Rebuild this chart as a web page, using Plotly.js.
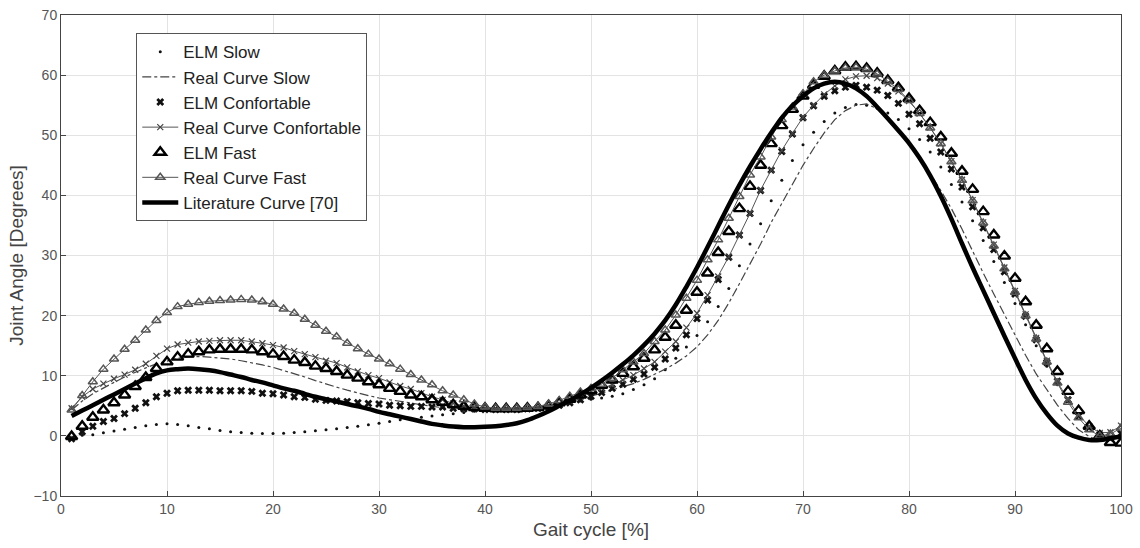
<!DOCTYPE html>
<html>
<head>
<meta charset="utf-8">
<script src="https://cdn.plot.ly/plotly-3.0.1.min.js"></script>
<style>
  html, body { margin: 0; padding: 0; background: #ffffff; }
  #chart { width: 1140px; height: 548px; }
</style>
</head>
<body>
<div id="chart"></div>
<script>
// Gait cycle [%]
const gaitCycle = [1,2,3,4,5,6,7,8,9,10,11,12,13,14,15,16,17,18,19,20,21,22,23,24,25,26,27,28,29,30,31,32,33,34,35,36,37,38,39,40,41,42,43,44,45,46,47,48,49,50,51,52,53,54,55,56,57,58,59,60,61,62,63,64,65,66,67,68,69,70,71,72,73,74,75,76,77,78,79,80,81,82,83,84,85,86,87,88,89,90,91,92,93,94,95,96,97,98,99,100];

const elmSlow = [-0.3,0.1,0.2,0.5,0.8,1.1,1.4,1.7,1.9,2.0,1.9,1.7,1.4,1.2,0.9,0.7,0.55,0.45,0.4,0.4,0.45,0.55,0.7,0.85,1.0,1.2,1.4,1.6,1.85,2.1,2.4,2.7,2.9,3.1,3.3,3.5,3.7,3.9,4.1,4.2,4.3,4.4,4.5,4.6,4.8,5.0,5.2,5.5,5.8,6.1,6.3,6.6,7.0,7.7,8.5,9.5,11.0,12.9,14.8,16.7,19.0,21.5,24.5,28.3,31.9,35.3,39.1,42.5,45.8,48.4,50.5,52.3,53.7,54.6,55.1,55.0,54.5,53.7,52.6,51.1,49.3,47.2,44.7,41.8,38.9,35.8,32.5,29.0,25.5,22.0,18.5,15.0,11.6,8.5,5.7,3.2,1.3,0.1,-0.5,-0.3];

const realSlow = [4.3,5.8,7.0,8.0,8.9,9.8,10.6,11.3,12.0,12.5,12.9,13.1,13.2,13.1,13.0,12.8,12.5,12.2,11.8,11.4,10.9,10.4,9.8,9.2,8.6,8.1,7.6,7.1,6.7,6.3,6.0,5.7,5.4,5.1,4.9,4.7,4.6,4.5,4.4,4.4,4.4,4.4,4.5,4.6,4.8,5.0,5.3,5.7,6.1,6.6,7.1,7.6,8.1,8.7,9.4,10.2,11.1,12.1,13.3,14.8,16.8,19.2,22.1,25.3,28.5,31.9,35.5,38.6,41.9,45.0,47.8,50.4,52.6,54.1,55.0,55.2,54.4,52.6,50.6,48.5,46.0,43.6,40.8,37.8,34.4,30.7,27.1,23.6,20.2,16.8,13.4,10.3,7.6,5.1,2.9,1.0,-0.1,-0.8,-0.6,0.2];

const elmConf = [-0.5,0.7,1.6,2.4,2.9,3.7,4.6,5.5,6.5,7.1,7.5,7.6,7.6,7.6,7.5,7.5,7.5,7.4,7.1,7.0,6.8,6.5,6.4,6.1,5.9,5.8,5.7,5.5,5.4,5.3,5.1,5.0,4.9,4.9,4.8,4.8,4.6,4.5,4.5,4.4,4.4,4.4,4.4,4.5,4.6,4.8,5.1,5.5,6.0,6.6,7.2,7.9,8.6,9.4,10.3,11.4,12.8,14.6,16.8,19.5,22.6,26.0,29.7,33.4,37.0,40.8,44.2,47.3,50.2,52.9,54.9,56.5,57.4,58.0,58.3,58.0,57.5,56.6,55.3,53.5,51.9,49.5,47.2,44.4,41.4,38.1,34.6,31.0,27.3,23.6,19.9,16.0,12.2,9.1,6.0,3.3,1.4,0.2,-0.4,0.4];

const realConf = [4.6,6.5,7.8,8.7,9.5,10.2,11.0,12.0,13.3,14.5,15.2,15.5,15.7,15.8,15.9,15.9,15.9,15.7,15.4,15.1,14.7,14.1,13.6,13.1,12.5,12.1,11.4,10.7,10.1,9.6,8.9,8.3,7.8,7.1,6.5,6.0,5.4,5.0,4.6,4.5,4.4,4.4,4.4,4.5,4.6,4.9,5.3,5.8,6.5,7.4,7.9,8.5,9.3,10.1,11.2,12.3,14.0,15.7,18.0,20.4,23.4,26.5,29.8,33.4,37.0,40.9,44.2,47.5,50.3,53.0,55.0,56.8,58.2,59.3,59.8,59.9,59.5,58.6,57.3,55.7,53.6,51.3,48.6,45.7,42.6,39.2,35.5,31.8,28.0,24.1,20.2,16.3,12.5,9.0,6.0,3.5,1.6,0.5,0.6,1.7];

const elmFast = [-0.1,1.6,3.1,4.3,5.5,6.8,8.2,9.7,11.2,12.3,13.1,13.6,14.0,14.3,14.4,14.4,14.4,14.3,14.0,13.6,13.2,12.6,12.2,11.6,11.2,10.7,10.1,9.6,9.0,8.5,7.9,7.4,6.8,6.5,6.0,5.6,5.2,4.9,4.7,4.6,4.5,4.5,4.5,4.6,4.7,5.0,5.5,6.1,6.8,7.5,8.4,9.3,10.4,11.5,12.9,14.3,16.4,18.4,20.9,23.9,27.1,30.5,34.0,37.8,41.5,45.0,48.6,51.6,54.3,56.5,58.3,59.8,60.7,61.3,61.4,61.1,60.3,59.1,57.9,56.1,54.1,52.1,49.7,47.0,44.0,41.0,37.3,33.4,29.9,26.2,22.3,18.4,14.5,10.7,7.4,4.2,1.6,0.0,-1.1,-1.2];

const realFast = [4.3,6.7,9.0,11.1,12.8,14.4,15.9,17.6,19.2,20.5,21.5,21.9,22.2,22.4,22.5,22.6,22.7,22.6,22.3,21.9,21.1,20.4,19.4,18.4,17.4,16.5,15.4,14.5,13.6,12.8,12.0,11.1,10.2,9.3,8.5,7.5,6.8,6.0,5.3,4.8,4.6,4.6,4.6,4.7,4.9,5.3,5.9,6.6,7.3,7.9,8.6,9.6,11.0,12.3,13.7,15.7,17.6,20.1,22.9,25.9,29.3,32.6,36.2,39.8,43.4,46.4,49.7,52.6,54.7,56.9,58.9,60.0,60.7,61.2,61.3,61.0,60.2,59.0,57.6,55.8,53.6,51.2,48.6,45.6,42.5,39.1,35.4,31.6,27.8,23.9,20.0,16.1,12.3,8.8,5.6,3.0,1.0,0.0,0.3,1.3];

const literature = [3.3,4.2,5.1,6.0,6.9,7.8,8.7,9.6,10.4,10.9,11.1,11.2,11.1,10.9,10.6,10.2,9.8,9.3,8.9,8.4,7.9,7.5,7.0,6.5,6.1,5.7,5.3,4.9,4.5,4.0,3.6,3.2,2.8,2.4,2.0,1.75,1.55,1.45,1.45,1.5,1.6,1.8,2.1,2.6,3.3,4.1,5.0,5.9,6.9,8.0,9.2,10.5,11.9,13.4,15.1,17.0,19.2,21.8,24.8,28.0,31.4,34.9,38.4,41.7,44.8,47.7,50.4,52.9,54.9,56.5,57.8,58.6,58.9,58.6,57.8,56.5,54.7,52.8,50.8,48.7,46.2,43.3,39.9,36.1,32.0,28.0,24.2,20.4,16.6,12.9,9.3,6.2,3.7,1.7,0.4,-0.3,-0.7,-0.7,-0.4,-0.1];

const seriesNames = ['ELM Slow','Real Curve Slow','ELM Confortable','Real Curve Confortable','ELM Fast','Real Curve Fast','Literature Curve [70]'];

const traces = [
  {x: gaitCycle, y: elmSlow, name: seriesNames[0], type: 'scatter', mode: 'markers',
   marker: {symbol: 'circle', size: 3, color: '#111'}},
  {x: gaitCycle, y: realSlow, name: seriesNames[1], type: 'scatter', mode: 'lines',
   line: {color: '#444', width: 1.2, dash: 'dashdot'}},
  {x: gaitCycle, y: elmConf, name: seriesNames[2], type: 'scatter', mode: 'markers',
   marker: {symbol: 'x', size: 7, color: '#111', line: {width: 0}}},
  {x: gaitCycle, y: realConf, name: seriesNames[3], type: 'scatter', mode: 'lines+markers',
   line: {color: '#555', width: 1},
   marker: {symbol: 'x-thin', size: 6, color: '#444', line: {color: '#444', width: 1.2}}},
  {x: gaitCycle, y: elmFast, name: seriesNames[4], type: 'scatter', mode: 'markers',
   marker: {symbol: 'triangle-up-open', size: 10, color: '#000', line: {color: '#000', width: 2.4}}},
  {x: gaitCycle, y: realFast, name: seriesNames[5], type: 'scatter', mode: 'lines+markers',
   line: {color: '#555', width: 1},
   marker: {symbol: 'triangle-up-open', size: 8, color: '#555', line: {color: '#555', width: 1.5}}},
  {x: gaitCycle, y: literature, name: seriesNames[6], type: 'scatter', mode: 'lines',
   line: {color: '#000', width: 4.5, shape: 'spline'}}
];

const axisCommon = {
  showgrid: true, gridcolor: '#e3e3e3', gridwidth: 1,
  zeroline: false, showline: true, linecolor: '#444', linewidth: 1, mirror: true,
  ticks: 'inside', ticklen: 5, tickcolor: '#444',
  tickfont: {family: 'Liberation Sans, Arial, sans-serif', size: 14, color: '#555'}
};

const layout = {
  width: 1140, height: 548,
  paper_bgcolor: '#ffffff', plot_bgcolor: '#ffffff',
  margin: {l: 61, r: 19, t: 15, b: 52},
  showlegend: true,
  font: {family: 'Liberation Sans, Arial, sans-serif', color: '#333'},
  xaxis: Object.assign({}, axisCommon, {
    range: [0, 100], tickvals: [0,10,20,30,40,50,60,70,80,90,100],
    title: {text: 'Gait cycle [%]', font: {size: 19, color: '#444'}, standoff: 6}
  }),
  yaxis: Object.assign({}, axisCommon, {
    range: [-10, 70], tickvals: [-10,0,10,20,30,40,50,60,70],
    title: {text: 'Joint Angle [Degrees]', font: {size: 19, color: '#444'}, standoff: 4}
  }),
  legend: {
    x: 0.071, y: 0.962, xanchor: 'left', yanchor: 'top',
    bgcolor: '#ffffff', bordercolor: '#555', borderwidth: 1,
    font: {family: 'Liberation Sans, Arial, sans-serif', size: 17, color: '#222'},
    itemwidth: 36, tracegroupgap: 0
  }
};

Plotly.newPlot('chart', traces, layout, {staticPlot: true, displayModeBar: false});
</script>
</body>
</html>
